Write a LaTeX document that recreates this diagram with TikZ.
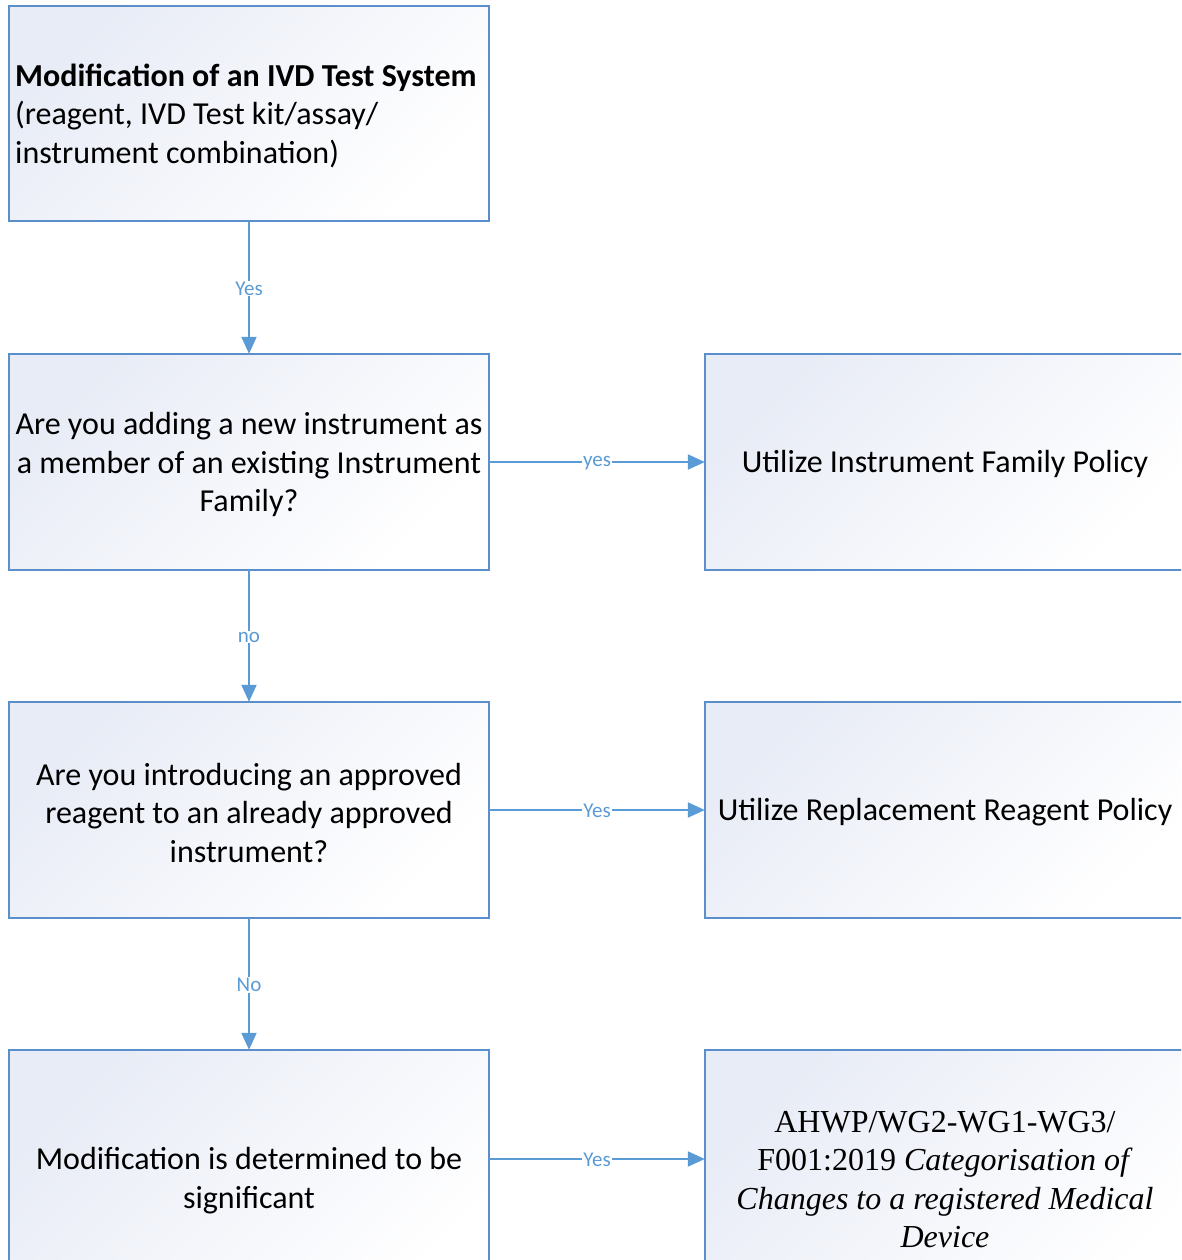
\documentclass[tikz,border=0pt]{standalone}
\usepackage{fontspec}
\setmainfont{Carlito}
\newfontfamily\timesfont{Liberation Serif}
\usetikzlibrary{arrows.meta}
\definecolor{lineblue}{HTML}{5B9BD5}
\definecolor{boxborder}{HTML}{5B8FCB}
\definecolor{shadeblue}{HTML}{E8ECF6}
\tikzset{
  flowbox/.style={draw=boxborder, line width=1.5pt, top color=shadeblue, bottom color=white, shading angle=45},
  boxtext/.style={font=\fontsize{32}{38.5}\selectfont, align=center, inner sep=0pt},
  conn/.style={draw=lineblue, line width=2pt, -{Triangle[length=17pt,width=15pt]}},
  lbl/.style={font=\fontsize{21}{22}\selectfont, text=lineblue, fill=white, inner sep=1pt}
}
\begin{document}
\begin{tikzpicture}[x=1pt,y=-1pt]
\useasboundingbox (0,0) rectangle (1181,1260);
\begin{scope}
\clip (0,0) rectangle (1181,1260);
% boxes
\shade[flowbox] (9,6) rectangle (489,221);
\shade[flowbox] (9,354) rectangle (489,570);
\shade[flowbox] (9,702) rectangle (489,918);
\shade[flowbox] (9,1050) rectangle (489,1310);
\shade[flowbox] (705,354) rectangle (1190,570);
\shade[flowbox] (705,702) rectangle (1190,918);
\shade[flowbox] (705,1050) rectangle (1190,1310);
\end{scope}
% anchor nodes
\node[inner sep=0pt, minimum width=480pt, minimum height=215pt] (b1) at (249,113.5) {};
\node[inner sep=0pt, minimum width=480pt, minimum height=216pt] (b2) at (249,462) {};
\node[inner sep=0pt, minimum width=480pt, minimum height=216pt] (b3) at (249,810) {};
\node[inner sep=0pt, minimum width=480pt, minimum height=218pt] (b4) at (249,1159) {};
\node[inner sep=0pt, minimum width=480pt, minimum height=216pt] (r1) at (945,462) {};
\node[inner sep=0pt, minimum width=480pt, minimum height=216pt] (r2) at (945,810) {};
\node[inner sep=0pt, minimum width=480pt, minimum height=218pt] (r3) at (945,1159) {};
% texts
\node[boxtext, align=left, anchor=west] (t1) at (15,115.5) {\textbf{Modification of an IVD Test System}\\(reagent, IVD Test kit/assay/\\instrument combination)};
\node[boxtext] (t2) at (249,464.5) {Are you adding a new instrument as\\a member of an existing Instrument\\Family?};
\node[boxtext] (t3) at (249,812.5) {Are you introducing an approved\\reagent to an already approved\\instrument?};
\node[boxtext] (t4) at (249,1180.5) {Modification is determined to be\\significant};
\node[boxtext] (t5) at (945,464) {Utilize Instrument Family Policy};
\node[boxtext] (t6) at (945,812) {Utilize Replacement Reagent Policy};
\node[boxtext, font=\timesfont\fontsize{32}{38.5}\selectfont] (t7) at (945,1179.5) {AHWP/WG2-WG1-WG3/\\F001:2019 \textit{Categorisation of}\\\textit{Changes to a registered Medical}\\\textit{Device}};
% connectors
\draw[conn] (b1.south) -- node[lbl, yshift=-1pt] {Yes} (b2.north);
\draw[conn] (b2.south) -- node[lbl, yshift=-1pt] {no} (b3.north);
\draw[conn] (b3.south) -- node[lbl, yshift=-1pt] {No} (b4.north);
\draw[conn] (b2.east) -- node[lbl, yshift=-1pt] {yes} (r1.west);
\draw[conn] (b3.east) -- node[lbl, yshift=-1pt] {Yes} (r2.west);
\draw[conn] (b4.east) -- node[lbl, yshift=-1pt] {Yes} (r3.west);
\end{tikzpicture}
\end{document}
